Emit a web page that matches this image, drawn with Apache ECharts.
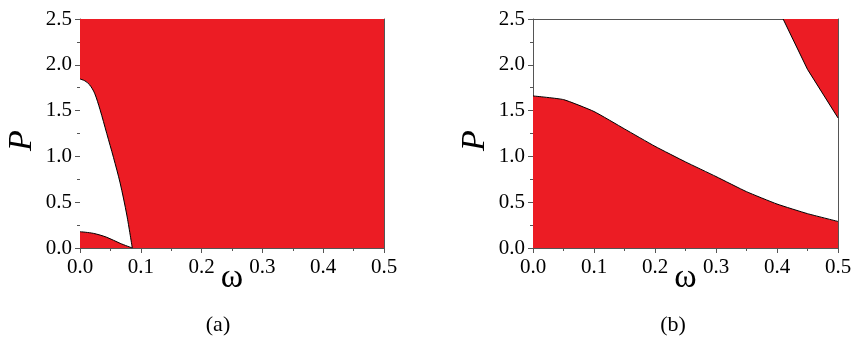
<!DOCTYPE html>
<html>
<head>
<meta charset="utf-8">
<script src="https://cdn.jsdelivr.net/npm/echarts@6/dist/echarts.min.js"></script>
<style>
html,body{margin:0;padding:0;background:#fff;}
#c{width:855px;height:337px;}
</style>
</head>
<body>
<div id="c"></div>
<script>
// ---- data ----
var xTicks = [0.0, 0.1, 0.2, 0.3, 0.4, 0.5];
var yTicks = [0.0, 0.5, 1.0, 1.5, 2.0, 2.5];

// panel (a)
var aFullW = [0, 0.5];
var aFullP = [2.5, 2.5];
var aUpperW = [0, 0.008, 0.016, 0.024, 0.033, 0.044, 0.055, 0.066, 0.077, 0.086];
var aUpperP = [1.845, 1.825, 1.78, 1.69, 1.51, 1.25, 0.99, 0.71, 0.36, 0];
var aLowerW = [0, 0.022, 0.044, 0.066, 0.086];
var aLowerP = [0.178, 0.16, 0.117, 0.051, 0];

// panel (b)
var bLowerW = [0, 0.05, 0.1, 0.15, 0.2, 0.25, 0.3, 0.35, 0.4, 0.45, 0.5];
var bLowerP = [1.66, 1.62, 1.49, 1.30, 1.11, 0.94, 0.78, 0.615, 0.48, 0.375, 0.29];
var bUpperW = [0.41, 0.45, 0.5];
var bUpperP = [2.5, 1.95, 1.42];

var captions = ['(a)', '(b)'];

function zip(a, b) { return a.map(function (v, i) { return [v, b[i]]; }); }

var RED = '#EC1C24';
var AXC = '#555';
var FONT = 'Liberation Serif';

function lbl(v) { return v.toFixed(1); }

function xAxisMain(gi) {
  return {
    type: 'value', gridIndex: gi, min: xTicks[0], max: xTicks[xTicks.length - 1], interval: 0.1,
    name: 'ω', nameLocation: 'middle', nameGap: 13, nameMoveOverlap: false,
    nameTextStyle: { fontFamily: FONT, fontSize: 34, color: '#000' },
    axisLine: { show: true, onZero: false, lineStyle: { color: AXC, width: 1 } },
    axisTick: { show: true, inside: false, length: 5, lineStyle: { color: AXC } },
    minorTick: { show: true, splitNumber: 2, length: 3, lineStyle: { color: AXC } },
    axisLabel: { fontFamily: FONT, fontSize: 21, color: '#000', margin: 9, formatter: lbl },
    splitLine: { show: false }
  };
}
function xAxisTop(gi) {
  return {
    type: 'value', gridIndex: gi, position: 'top', min: 0, max: 0.5,
    axisLine: { show: true, onZero: false, lineStyle: { color: AXC, width: 1 } },
    axisTick: { show: false }, axisLabel: { show: false }, splitLine: { show: false }
  };
}
function yAxisMain(gi) {
  return {
    type: 'value', gridIndex: gi, min: yTicks[0], max: yTicks[yTicks.length - 1], interval: 0.5,
    name: 'P', nameLocation: 'middle', nameGap: 41, nameRotate: 90, nameMoveOverlap: false,
    nameTextStyle: { fontFamily: FONT, fontSize: 34, fontStyle: 'italic', color: '#000', padding: [0, 14, 0, 0] },
    axisLine: { show: true, onZero: false, lineStyle: { color: AXC, width: 1 } },
    axisTick: { show: true, inside: false, length: 5, lineStyle: { color: AXC } },
    minorTick: { show: true, splitNumber: 2, length: 3, lineStyle: { color: AXC } },
    axisLabel: { fontFamily: FONT, fontSize: 21, color: '#000', margin: 8, formatter: lbl },
    splitLine: { show: false }
  };
}
function yAxisRight(gi) {
  return {
    type: 'value', gridIndex: gi, position: 'right', min: 0, max: 2.5,
    axisLine: { show: true, onZero: false, lineStyle: { color: AXC, width: 1 } },
    axisTick: { show: false }, axisLabel: { show: false }, splitLine: { show: false }
  };
}

function area(xi, yi, data, color, lineW, origin, z, smooth) {
  return {
    type: 'line', xAxisIndex: xi, yAxisIndex: yi, data: data, symbol: 'none',
    smooth: smooth, z: z, silent: true, animation: false,
    lineStyle: { color: '#000', width: lineW },
    areaStyle: { color: color, opacity: 1, origin: origin || 'start' }
  };
}

var chart = echarts.init(document.getElementById('c'), null, { renderer: 'canvas' });
chart.setOption({
  animation: false,
  backgroundColor: '#fff',
  textStyle: { fontFamily: FONT },
  grid: [
    { left: 80, top: 19, width: 304, height: 229, containLabel: false, outerBoundsMode: 'none' },
    { left: 533, top: 19, width: 305, height: 229, containLabel: false, outerBoundsMode: 'none' }
  ],
  xAxis: [xAxisMain(0), xAxisTop(0), xAxisMain(1), xAxisTop(1)],
  yAxis: [yAxisMain(0), yAxisRight(0), yAxisMain(1), yAxisRight(1)],
  graphic: [
    { type: 'text', x: 218, y: 314, style: { text: captions[0], fontFamily: FONT, fontSize: 22, fill: '#000', textAlign: 'center', textVerticalAlign: 'top' } },
    { type: 'text', x: 673, y: 314, style: { text: captions[1], fontFamily: FONT, fontSize: 22, fill: '#000', textAlign: 'center', textVerticalAlign: 'top' } }
  ],
  series: [
    area(0, 0, zip(aFullW, aFullP), RED, 0, 'start', 1, false),
    area(0, 0, zip(aUpperW, aUpperP), '#fff', 1, 'start', 2, 0.3),
    area(0, 0, zip(aLowerW, aLowerP), RED, 1, 'start', 3, 0.3),
    area(2, 2, zip(bLowerW, bLowerP), RED, 1, 'start', 2, 0.15),
    area(2, 2, zip(bUpperW, bUpperP), RED, 1, 'end', 2, false)
  ]
});
</script>
</body>
</html>
